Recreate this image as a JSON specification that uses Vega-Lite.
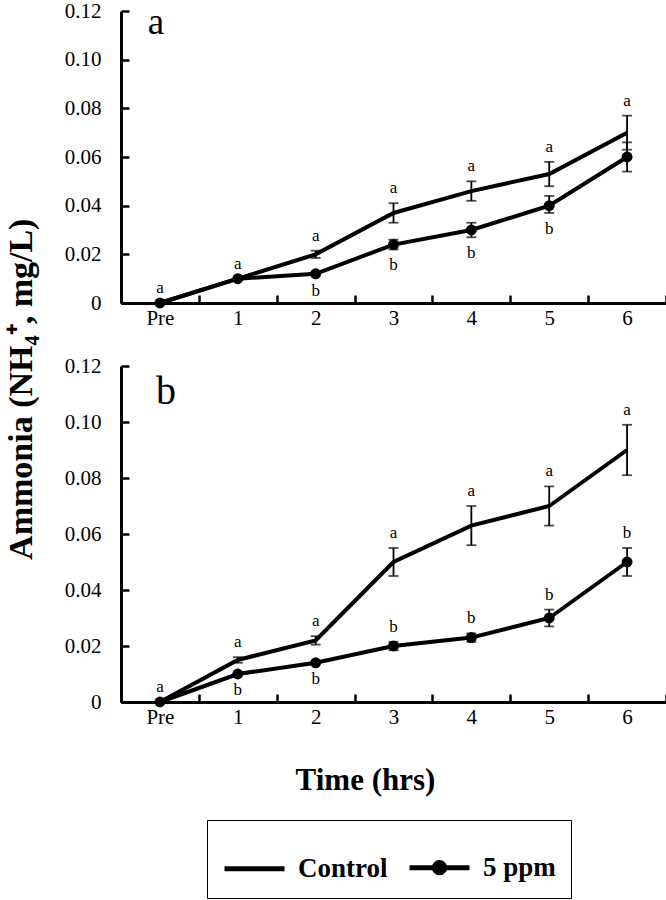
{
  "$schema": "https://vega.github.io/schema/vega-lite/v6.json",
  "padding": {"left": 5, "top": 0, "right": 0, "bottom": 2},
  "background": "white",
  "title": {"text": "Ammonia (NH₄⁺, mg/L)", "orient": "left", "anchor": "middle", "font": "Liberation Serif", "fontSize": 34, "fontWeight": "bold", "color": "black", "offset": 25, "dx": 60},
  "config": {
    "view": {"stroke": null},
    "font": "Liberation Serif",
    "axis": {"domainColor": "black", "domainWidth": 3, "tickColor": "black", "tickWidth": 2.5, "tickSize": -8, "labelFont": "Liberation Serif", "labelFontSize": 21, "labelColor": "black", "grid": false, "titleColor": "black"}
  },
  "datasets": {
    "obs": [
      {"panel": "a", "time": "Pre", "series": "Control", "mean": 0, "lo": 0, "hi": 0, "letter": "a", "side": "above"},
      {"panel": "a", "time": "Pre", "series": "5 ppm", "mean": 0, "lo": 0, "hi": 0, "letter": "", "side": "none"},
      {"panel": "a", "time": "1", "series": "Control", "mean": 0.010, "lo": 0.010, "hi": 0.010, "letter": "a", "side": "above"},
      {"panel": "a", "time": "1", "series": "5 ppm", "mean": 0.010, "lo": 0.010, "hi": 0.010, "letter": "", "side": "none"},
      {"panel": "a", "time": "2", "series": "Control", "mean": 0.020, "lo": 0.0185, "hi": 0.0215, "letter": "a", "side": "above"},
      {"panel": "a", "time": "2", "series": "5 ppm", "mean": 0.012, "lo": 0.0115, "hi": 0.0125, "letter": "b", "side": "below"},
      {"panel": "a", "time": "3", "series": "Control", "mean": 0.037, "lo": 0.033, "hi": 0.041, "letter": "a", "side": "above"},
      {"panel": "a", "time": "3", "series": "5 ppm", "mean": 0.024, "lo": 0.022, "hi": 0.026, "letter": "b", "side": "below"},
      {"panel": "a", "time": "4", "series": "Control", "mean": 0.046, "lo": 0.042, "hi": 0.050, "letter": "a", "side": "above"},
      {"panel": "a", "time": "4", "series": "5 ppm", "mean": 0.030, "lo": 0.027, "hi": 0.033, "letter": "b", "side": "below"},
      {"panel": "a", "time": "5", "series": "Control", "mean": 0.053, "lo": 0.048, "hi": 0.058, "letter": "a", "side": "above"},
      {"panel": "a", "time": "5", "series": "5 ppm", "mean": 0.040, "lo": 0.037, "hi": 0.044, "letter": "b", "side": "below"},
      {"panel": "a", "time": "6", "series": "Control", "mean": 0.070, "lo": 0.063, "hi": 0.077, "letter": "a", "side": "above"},
      {"panel": "a", "time": "6", "series": "5 ppm", "mean": 0.060, "lo": 0.054, "hi": 0.066, "letter": "", "side": "none"},
      {"panel": "b", "time": "Pre", "series": "Control", "mean": 0, "lo": 0, "hi": 0, "letter": "a", "side": "above"},
      {"panel": "b", "time": "Pre", "series": "5 ppm", "mean": 0, "lo": 0, "hi": 0, "letter": "", "side": "none"},
      {"panel": "b", "time": "1", "series": "Control", "mean": 0.015, "lo": 0.014, "hi": 0.016, "letter": "a", "side": "above"},
      {"panel": "b", "time": "1", "series": "5 ppm", "mean": 0.010, "lo": 0.010, "hi": 0.010, "letter": "b", "side": "below"},
      {"panel": "b", "time": "2", "series": "Control", "mean": 0.022, "lo": 0.0205, "hi": 0.0235, "letter": "a", "side": "above"},
      {"panel": "b", "time": "2", "series": "5 ppm", "mean": 0.014, "lo": 0.014, "hi": 0.014, "letter": "b", "side": "below"},
      {"panel": "b", "time": "3", "series": "Control", "mean": 0.050, "lo": 0.045, "hi": 0.055, "letter": "a", "side": "above"},
      {"panel": "b", "time": "3", "series": "5 ppm", "mean": 0.020, "lo": 0.0185, "hi": 0.0215, "letter": "b", "side": "above"},
      {"panel": "b", "time": "4", "series": "Control", "mean": 0.063, "lo": 0.056, "hi": 0.070, "letter": "a", "side": "above"},
      {"panel": "b", "time": "4", "series": "5 ppm", "mean": 0.023, "lo": 0.0215, "hi": 0.0245, "letter": "b", "side": "above"},
      {"panel": "b", "time": "5", "series": "Control", "mean": 0.070, "lo": 0.063, "hi": 0.077, "letter": "a", "side": "above"},
      {"panel": "b", "time": "5", "series": "5 ppm", "mean": 0.030, "lo": 0.027, "hi": 0.033, "letter": "b", "side": "above"},
      {"panel": "b", "time": "6", "series": "Control", "mean": 0.090, "lo": 0.081, "hi": 0.099, "letter": "a", "side": "above"},
      {"panel": "b", "time": "6", "series": "5 ppm", "mean": 0.050, "lo": 0.045, "hi": 0.055, "letter": "b", "side": "above"}
    ]
  },
  "spacing": 27,
  "vconcat": [
    {
      "width": 545,
      "height": 292,
      "data": {"name": "obs"},
      "encoding": {
        "x": {"field": "time", "type": "ordinal", "sort": ["Pre", "1", "2", "3", "4", "5", "6"], "scale": {"paddingInner": 0, "paddingOuter": 0}, "axis": {"title": null, "labelAngle": 0, "tickBand": "extent", "labelPadding": 12}}
      },
      "layer": [
        {"transform": [{"filter": "datum.panel == 'a'"}], "mark": {"type": "line", "color": "black", "strokeWidth": 4}, "encoding": {"y": {"field": "mean", "type": "quantitative", "title": null, "scale": {"domain": [0, 0.12], "nice": false}, "axis": {"title": null, "values": [0, 0.02, 0.04, 0.06, 0.08, 0.1, 0.12], "labelExpr": "datum.value == 0 ? '0' : format(datum.value, '.2f')", "labelPadding": 28}}, "detail": {"field": "series"}}},
        {"transform": [{"filter": "datum.panel == 'a' && datum.hi > datum.lo"}], "mark": {"type": "rule", "color": "black", "strokeWidth": 1.8}, "encoding": {"y": {"field": "lo", "type": "quantitative", "title": null}, "y2": {"field": "hi"}}},
        {"transform": [{"filter": "datum.panel == 'a' && datum.hi > datum.lo"}], "mark": {"type": "tick", "color": "black", "thickness": 1.8, "size": 10}, "encoding": {"y": {"field": "lo", "type": "quantitative", "title": null}}},
        {"transform": [{"filter": "datum.panel == 'a' && datum.hi > datum.lo"}], "mark": {"type": "tick", "color": "black", "thickness": 1.8, "size": 10}, "encoding": {"y": {"field": "hi", "type": "quantitative", "title": null}}},
        {"transform": [{"filter": "datum.panel == 'a' && datum.series == '5 ppm'"}], "mark": {"type": "point", "filled": true, "color": "black", "size": 120, "opacity": 1}, "encoding": {"y": {"field": "mean", "type": "quantitative", "title": null}}},
        {"transform": [{"filter": "datum.panel == 'a' && datum.side == 'above'"}], "mark": {"type": "text", "baseline": "alphabetic", "dy": -10, "fontSize": 17, "font": "Liberation Serif", "color": "black"}, "encoding": {"y": {"field": "hi", "type": "quantitative", "title": null}, "text": {"field": "letter"}}},
        {"transform": [{"filter": "datum.panel == 'a' && datum.side == 'below'"}], "mark": {"type": "text", "baseline": "top", "dy": 8, "fontSize": 17, "font": "Liberation Serif", "color": "black"}, "encoding": {"y": {"field": "lo", "type": "quantitative", "title": null}, "text": {"field": "letter"}}},
        {"data": {"values": [{"time": "Pre", "v": 0.12, "lab": "a"}]}, "mark": {"type": "text", "align": "center", "baseline": "alphabetic", "dx": -4, "dy": 23, "fontSize": 37, "font": "Liberation Serif", "color": "black"}, "encoding": {"y": {"field": "v", "type": "quantitative", "title": null}, "text": {"field": "lab"}}},
        {"transform": [{"filter": "false"}], "mark": {"type": "point", "filled": false, "color": "black", "strokeWidth": 5, "opacity": 1}, "encoding": {"y": {"field": "mean", "type": "quantitative", "title": null}, "shape": {"field": "series", "type": "nominal", "scale": {"domain": ["Control", "5 ppm"], "range": ["M-1,0L1,0", "M-1,0L1,0M0.17,0A0.17,0.17,0,1,1,-0.17,0A0.17,0.17,0,1,1,0.17,0M0.08,0A0.08,0.08,0,1,1,-0.08,0A0.08,0.08,0,1,1,0.08,0"]}, "legend": {"title": null, "orient": "none", "legendX": 86, "legendY": 809, "direction": "horizontal", "strokeColor": "black", "padding": 15, "symbolSize": 3600, "symbolStrokeWidth": 5, "symbolStrokeColor": "black", "symbolOpacity": 1, "labelFont": "Liberation Serif", "labelFontSize": 27, "labelFontWeight": "bold", "labelColor": "black", "labelOffset": 11, "columnPadding": 11}}}}
      ]
    },
    {
      "width": 545,
      "height": 336,
      "data": {"name": "obs"},
      "encoding": {
        "x": {"field": "time", "type": "ordinal", "sort": ["Pre", "1", "2", "3", "4", "5", "6"], "scale": {"paddingInner": 0, "paddingOuter": 0}, "axis": {"title": "Time (hrs)", "labelAngle": 0, "tickBand": "extent", "labelPadding": 12, "titleFont": "Liberation Serif", "titleFontSize": 31, "titleFontWeight": "bold", "titleX": 244, "titleY": 87, "titleBaseline": "alphabetic", "titleAlign": "center"}}
      },
      "layer": [
        {"transform": [{"filter": "datum.panel == 'b'"}], "mark": {"type": "line", "color": "black", "strokeWidth": 4}, "encoding": {"y": {"field": "mean", "type": "quantitative", "title": null, "scale": {"domain": [0, 0.12], "nice": false}, "axis": {"title": null, "values": [0, 0.02, 0.04, 0.06, 0.08, 0.1, 0.12], "labelExpr": "datum.value == 0 ? '0' : format(datum.value, '.2f')", "labelPadding": 28}}, "detail": {"field": "series"}}},
        {"transform": [{"filter": "datum.panel == 'b' && datum.hi > datum.lo"}], "mark": {"type": "rule", "color": "black", "strokeWidth": 1.8}, "encoding": {"y": {"field": "lo", "type": "quantitative", "title": null}, "y2": {"field": "hi"}}},
        {"transform": [{"filter": "datum.panel == 'b' && datum.hi > datum.lo"}], "mark": {"type": "tick", "color": "black", "thickness": 1.8, "size": 10}, "encoding": {"y": {"field": "lo", "type": "quantitative", "title": null}}},
        {"transform": [{"filter": "datum.panel == 'b' && datum.hi > datum.lo"}], "mark": {"type": "tick", "color": "black", "thickness": 1.8, "size": 10}, "encoding": {"y": {"field": "hi", "type": "quantitative", "title": null}}},
        {"transform": [{"filter": "datum.panel == 'b' && datum.series == '5 ppm'"}], "mark": {"type": "point", "filled": true, "color": "black", "size": 120, "opacity": 1}, "encoding": {"y": {"field": "mean", "type": "quantitative", "title": null}}},
        {"transform": [{"filter": "datum.panel == 'b' && datum.side == 'above'"}], "mark": {"type": "text", "baseline": "alphabetic", "dy": -10, "fontSize": 17, "font": "Liberation Serif", "color": "black"}, "encoding": {"y": {"field": "hi", "type": "quantitative", "title": null}, "text": {"field": "letter"}}},
        {"transform": [{"filter": "datum.panel == 'b' && datum.side == 'below'"}], "mark": {"type": "text", "baseline": "top", "dy": 8, "fontSize": 17, "font": "Liberation Serif", "color": "black"}, "encoding": {"y": {"field": "lo", "type": "quantitative", "title": null}, "text": {"field": "letter"}}},
        {"data": {"values": [{"time": "Pre", "v": 0.12, "lab": "b"}]}, "mark": {"type": "text", "align": "center", "baseline": "alphabetic", "dx": 6, "dy": 38, "fontSize": 40, "font": "Liberation Serif", "color": "black"}, "encoding": {"y": {"field": "v", "type": "quantitative", "title": null}, "text": {"field": "lab"}}}
      ]
    }
  ]
}
